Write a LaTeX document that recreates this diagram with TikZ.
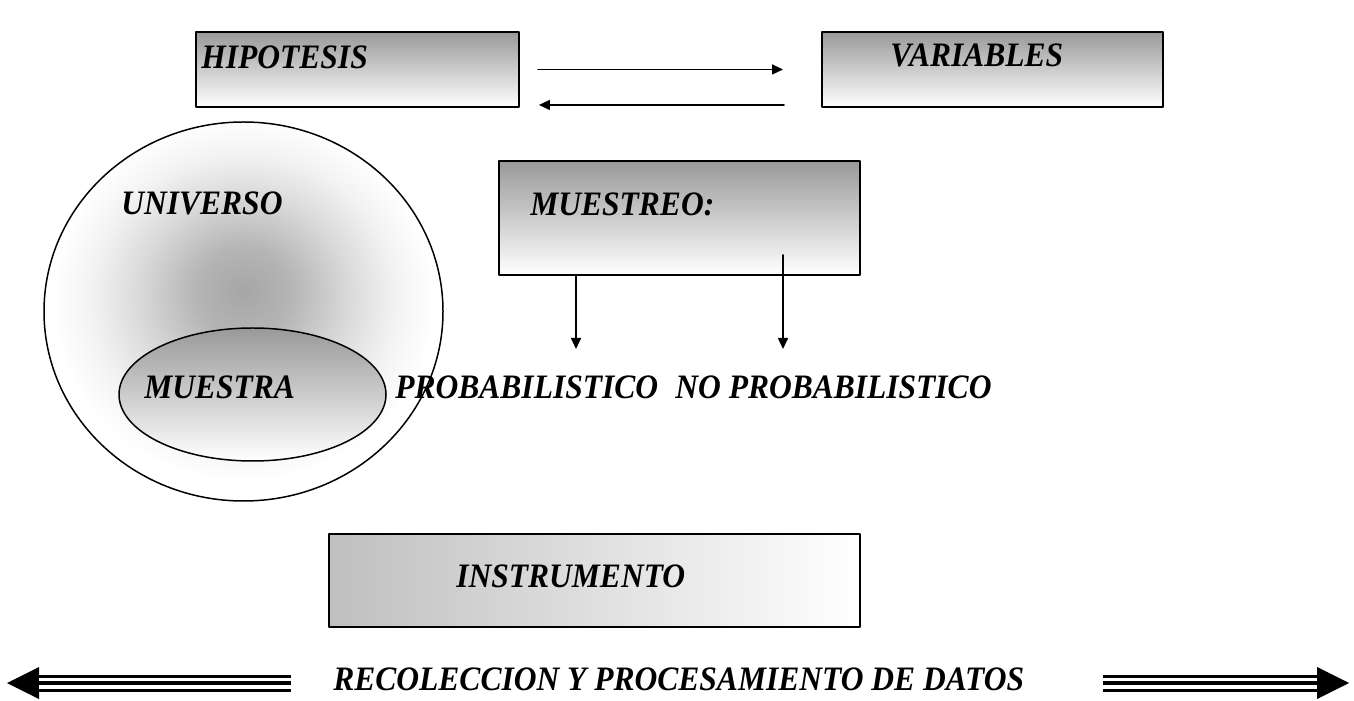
\documentclass[tikz,border=0pt]{standalone}
\usepackage{fontspec}
\usepackage{graphicx}
\setmainfont{Liberation Serif}
\usetikzlibrary{arrows.meta}
\newcommand{\cnd}[1]{\scalebox{0.92}[1]{#1}}
\pgfdeclareradialshading{univshade}{\pgfpoint{0bp}{2.8bp}}{color(0bp)=(black!35); color(6bp)=(black!29); color(13bp)=(black!15); color(19bp)=(black!5); color(24bp)=(white); color(50bp)=(white)}
\begin{document}
\begin{tikzpicture}[line join=round, line cap=round, >={Triangle[length=0.22cm,width=0.2cm]},
		lbl/.style={font=\bfseries\itshape\fontsize{19.5}{23}\selectfont, inner sep=0pt, anchor=base west},
		caja/.style={draw, line width=1.1pt, inner sep=0pt, anchor=north west},
		flecha/.style={line width=0.34cm, line cap=butt, -{Triangle[length=0.64cm,width=0.64cm,line width=0pt]},
			postaction={draw=white, line width=0.22cm, -, shorten >=0.64cm},
			postaction={draw=black, line width=0.08cm, -, shorten >=0.64cm}}]
	\useasboundingbox (0,0) rectangle (27.08,14);
	% hipotesis - variables
	\node[caja, top color=black!40, bottom color=white, minimum width=6.46cm, minimum height=1.5cm] (hip) at (3.9,13.38) {};
	\node[caja, top color=black!40, bottom color=white, minimum width=6.82cm, minimum height=1.5cm] (var) at (16.42,13.38) {};
	\node[lbl] (thip) at (4.02,12.62) {\cnd{HIPOTESIS}};
	\node[lbl] (tvar) at (17.8,12.66) {\cnd{VARIABLES}};
	\draw[->, line width=0.9pt, shorten <=0.36cm, shorten >=0.76cm] (hip.east) -- (var.west);
	\draw[->, line width=0.9pt, shorten <=0.74cm, shorten >=0.38cm] ([yshift=-0.71cm]var.west) -- ([yshift=-0.71cm]hip.east);
	% universo y muestra
	\draw[line width=0.85pt, shade, shading=univshade] (4.87,7.77) ellipse (3.99 and 3.79);
	\draw[line width=0.85pt, top color=black!40, bottom color=white] (5.05,6.11) ellipse (2.67 and 1.33);
	\node[lbl] (tuni) at (2.42,9.7) {\cnd{UNIVERSO}};
	\node[lbl] (tmta) at (2.88,6.02) {\cnd{MUESTRA}};
	% muestreo
	\node[caja, top color=black!40, bottom color=white, minimum width=7.22cm, minimum height=2.28cm] (mue) at (9.96,10.8) {};
	\node[lbl] (tmue) at (10.6,9.68) {\cnd{MUESTREO:}};
	\coordinate (pa) at (11.52,7.02);
	\coordinate (pb0) at (15.66,8.9);
	\coordinate (pb) at (15.66,7.02);
	\draw[->, line width=0.9pt] (mue.south -| pa) -- (pa);
	\draw[->, line width=0.9pt] (pb0) -- (pb);
	\node[lbl] (prob) at (7.9,6.03) {\cnd{PROBABILISTICO}};
	\node[lbl] (nprob) at (13.5,6.03) {\cnd{NO PROBABILISTICO}};
	% instrumento
	\node[caja, left color=black!25, right color=white, minimum width=10.62cm, minimum height=1.86cm] (ins) at (6.56,3.34) {};
	\node[lbl] (tins) at (9.12,2.24) {\cnd{INSTRUMENTO}};
	% recoleccion
	\node[lbl] (trec) at (6.66,0.2) {\cnd{RECOLECCION Y PROCESAMIENTO DE DATOS}};
	\coordinate (la) at (5.82,0.34);
	\coordinate (lt) at (0.14,0.34);
	\coordinate (ra) at (22.06,0.34);
	\coordinate (rt) at (26.98,0.34);
	\draw[flecha] (la) -- (lt);
	\draw[flecha] (ra) -- (rt);
\end{tikzpicture}
\end{document}
